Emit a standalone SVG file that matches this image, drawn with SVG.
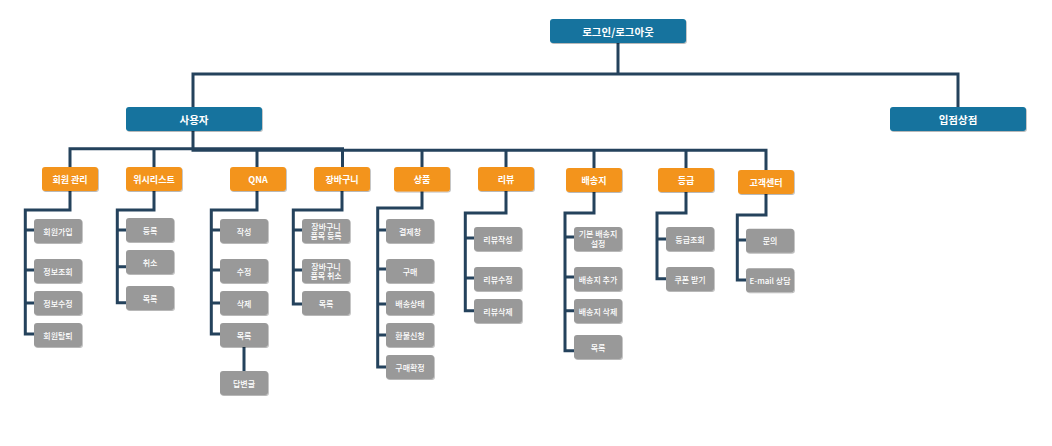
<svg xmlns="http://www.w3.org/2000/svg" width="1052" height="446" viewBox="0 0 1052 446">
<defs>
<filter id="sh" x="-10%" y="-10%" width="130%" height="140%">
<feDropShadow dx="0.8" dy="1" stdDeviation="0.6" flood-color="#000" flood-opacity="0.28"/>
</filter>
<style>
.b{fill:#12739e;filter:url(#sh)}
.o{fill:#f3941f;filter:url(#sh)}
.g{fill:#999999;filter:url(#sh)}
.t{fill:#fff;font-family:"Noto Sans CJK KR","Noto Sans",sans-serif;text-anchor:middle;dominant-baseline:central}
.tb{font-size:10.5px;font-weight:bold}
.to{font-size:9px;font-weight:bold}
.tg{font-size:8px;font-weight:500}
.c{fill:none;stroke:#24425c;stroke-width:3;stroke-linejoin:miter}
</style>
</defs>
<rect width="1052" height="446" fill="#fff"/>
<g id="connectors" class="c">
<path d="M618 43V74"/>
<path d="M193 107V74H958V107"/>
<path d="M70 167V148.7H342.5V167"/>
<path d="M193 131V150.3H766V170"/>
<path d="M154 149V167M257 150V167M422 150V167M506 150V167M594 150V168M686 150V168"/>
<path d="M70 191V210H25.3V334H34M25.3 230H34M25.3 270H34M25.3 303H34"/>
<path d="M154 191V210H117.3V302.7H126M117.3 230H126M117.3 266.7H126"/>
<path d="M257 191V210H211.3V334H220M211.3 230H220M211.3 270H220M211.3 303H220M244 347V371"/>
<path d="M342 191V210H293.3V304H302M293.3 230H302M293.3 270H302"/>
<path d="M422 191V208H377.7V367H386M377.7 230H386M377.7 269H386M377.7 304H386M377.7 335H386"/>
<path d="M506 191V213H465.3V310.7H474M465.3 238H474M465.3 278H474"/>
<path d="M594 192V213H565V350.7H574M565 237H574M565 277H574M565 310.7H574"/>
<path d="M686 192V213H657V278.7H666M657 239H666"/>
<path d="M766 194V215H737.3V280H746M737.3 240H746"/>
</g>
<g id="n-root"><rect class="b" x="550" y="19" width="136" height="24" rx="3"/><text class="t tb" x="618" y="31">로그인/로그아웃</text></g>
<g id="n-user"><rect class="b" x="126" y="107" width="136" height="24" rx="3"/><text class="t tb" x="194" y="119">사용자</text></g>
<g id="n-store"><rect class="b" x="890" y="107" width="136" height="24" rx="3"/><text class="t tb" x="958" y="119">입점상점</text></g>

<g id="n-member"><rect class="o" x="42" y="167" width="56" height="24" rx="3"/><text class="t to" x="70" y="179">회원 관리</text></g>
<g id="n-wish"><rect class="o" x="126" y="167" width="56" height="24" rx="3"/><text class="t to" x="154" y="179">위시리스트</text></g>
<g id="n-qna"><rect class="o" x="230" y="167" width="56" height="24" rx="3"/><text class="t to" x="258" y="179">QNA</text></g>
<g id="n-cart"><rect class="o" x="314" y="167" width="56" height="24" rx="3"/><text class="t to" x="342" y="179">장바구니</text></g>
<g id="n-product"><rect class="o" x="394" y="167" width="56" height="24.5" rx="3"/><text class="t to" x="422" y="179">상품</text></g>
<g id="n-review"><rect class="o" x="478" y="167" width="56" height="24" rx="3"/><text class="t to" x="506" y="179">리뷰</text></g>
<g id="n-ship"><rect class="o" x="566" y="168" width="56" height="24" rx="3"/><text class="t to" x="594" y="180">배송지</text></g>
<g id="n-grade"><rect class="o" x="658" y="168" width="56" height="24" rx="3"/><text class="t to" x="686" y="180">등급</text></g>
<g id="n-cs"><rect class="o" x="738" y="170" width="56" height="24" rx="3"/><text class="t to" x="766" y="182">고객센터</text></g>

<g id="n-m1"><rect class="g" x="34" y="219" width="48" height="24" rx="3"/><text class="t tg" x="58" y="231">회원가입</text></g>
<g id="n-m2"><rect class="g" x="34" y="259" width="48" height="24" rx="3"/><text class="t tg" x="58" y="271">정보조회</text></g>
<g id="n-m3"><rect class="g" x="34" y="291" width="48" height="24" rx="3"/><text class="t tg" x="58" y="303">정보수정</text></g>
<g id="n-m4"><rect class="g" x="34" y="323" width="48" height="24" rx="3"/><text class="t tg" x="58" y="335">회원탈퇴</text></g>

<g id="n-w1"><rect class="g" x="126" y="218" width="48" height="24" rx="3"/><text class="t tg" x="150" y="230">등록</text></g>
<g id="n-w2"><rect class="g" x="126" y="250" width="48" height="24" rx="3"/><text class="t tg" x="150" y="262">취소</text></g>
<g id="n-w3"><rect class="g" x="126" y="286" width="48" height="24" rx="3"/><text class="t tg" x="150" y="298">목록</text></g>

<g id="n-q1"><rect class="g" x="220" y="219" width="48" height="24" rx="3"/><text class="t tg" x="244" y="231">작성</text></g>
<g id="n-q2"><rect class="g" x="220" y="259" width="48" height="24" rx="3"/><text class="t tg" x="244" y="271">수정</text></g>
<g id="n-q3"><rect class="g" x="220" y="291" width="48" height="24" rx="3"/><text class="t tg" x="244" y="303">삭제</text></g>
<g id="n-q4"><rect class="g" x="220" y="323" width="48" height="24" rx="3"/><text class="t tg" x="244" y="335">목록</text></g>
<g id="n-q5"><rect class="g" x="220" y="371" width="48" height="24" rx="3"/><text class="t tg" x="244" y="383">답변글</text></g>

<g id="n-c1"><rect class="g" x="302" y="219" width="48" height="24" rx="3"/><text class="t tg" x="326" y="226.2">장바구니</text><text class="t tg" x="326" y="235.8">품목 등록</text></g>
<g id="n-c2"><rect class="g" x="302" y="259" width="48" height="24" rx="3"/><text class="t tg" x="326" y="266.2">장바구니</text><text class="t tg" x="326" y="275.8">품목 취소</text></g>
<g id="n-c3"><rect class="g" x="302" y="291" width="48" height="24" rx="3"/><text class="t tg" x="326" y="303">목록</text></g>

<g id="n-p1"><rect class="g" x="386" y="219" width="48" height="24" rx="3"/><text class="t tg" x="410" y="231">결제창</text></g>
<g id="n-p2"><rect class="g" x="386" y="259" width="48" height="24" rx="3"/><text class="t tg" x="410" y="271">구매</text></g>
<g id="n-p3"><rect class="g" x="386" y="291" width="48" height="24" rx="3"/><text class="t tg" x="410" y="303">배송상태</text></g>
<g id="n-p4"><rect class="g" x="386" y="323" width="48" height="24" rx="3"/><text class="t tg" x="410" y="335">환불신청</text></g>
<g id="n-p5"><rect class="g" x="386" y="355" width="48" height="24" rx="3"/><text class="t tg" x="410" y="367">구매확정</text></g>

<g id="n-r1"><rect class="g" x="474" y="227" width="48" height="24" rx="3"/><text class="t tg" x="498" y="239">리뷰작성</text></g>
<g id="n-r2"><rect class="g" x="474" y="267" width="48" height="24" rx="3"/><text class="t tg" x="498" y="279">리뷰수정</text></g>
<g id="n-r3"><rect class="g" x="474" y="299" width="48" height="24" rx="3"/><text class="t tg" x="498" y="311">리뷰삭제</text></g>

<g id="n-s1"><rect class="g" x="574" y="227" width="48" height="24" rx="3"/><text class="t tg" x="598" y="233.7">기본 배송지</text><text class="t tg" x="598" y="243.3">설정</text></g>
<g id="n-s2"><rect class="g" x="574" y="267" width="48" height="24" rx="3"/><text class="t tg" x="598" y="279">배송지 추가</text></g>
<g id="n-s3"><rect class="g" x="574" y="299" width="48" height="24" rx="3"/><text class="t tg" x="598" y="311">배송지 삭제</text></g>
<g id="n-s4"><rect class="g" x="574" y="335" width="48" height="24" rx="3"/><text class="t tg" x="598" y="347">목록</text></g>

<g id="n-g1"><rect class="g" x="666" y="227" width="48" height="24" rx="3"/><text class="t tg" x="690" y="239">등급조회</text></g>
<g id="n-g2"><rect class="g" x="666" y="267" width="48" height="24" rx="3"/><text class="t tg" x="690" y="279">쿠폰 받기</text></g>

<g id="n-cs1"><rect class="g" x="746" y="228.7" width="48" height="24" rx="3"/><text class="t tg" x="770" y="240.7">문의</text></g>
<g id="n-cs2"><rect class="g" x="746" y="268.3" width="48" height="24" rx="3"/><text class="t tg" x="770" y="280.3">E-mail 상담</text></g>
</svg>
